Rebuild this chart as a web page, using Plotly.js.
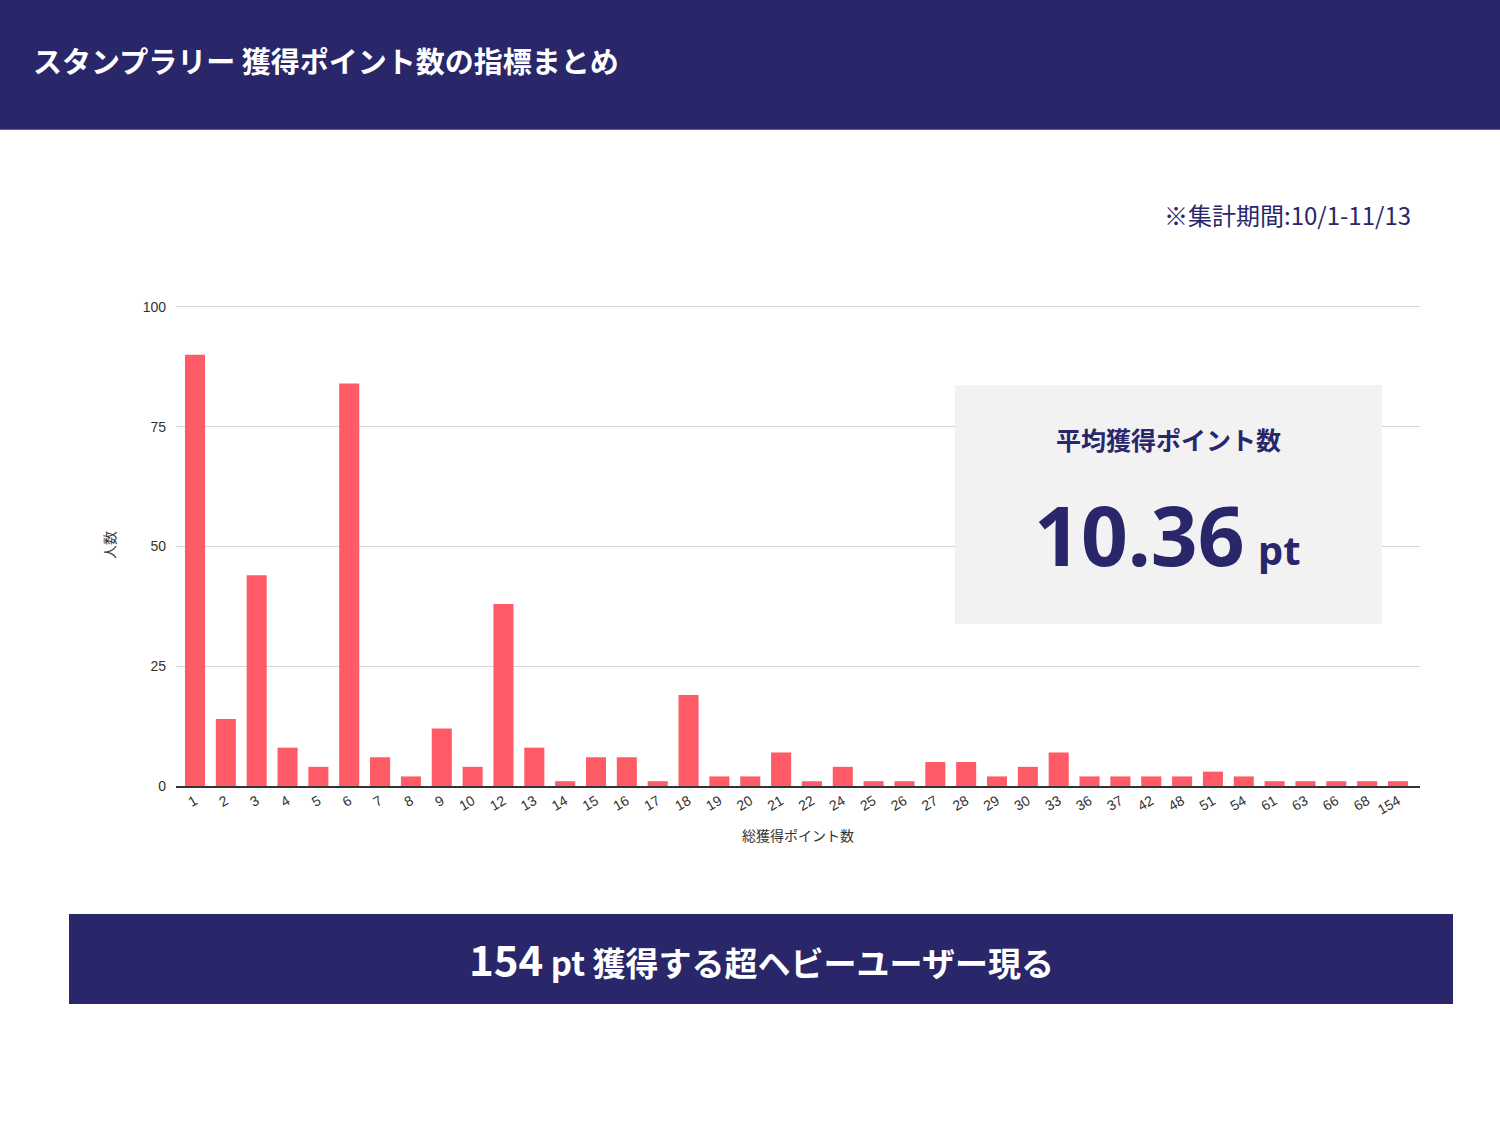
<!DOCTYPE html>
<html><head><meta charset="utf-8">
<script src="https://cdn.plot.ly/plotly-3.0.1.min.js"></script>
<style>html,body{margin:0;padding:0;background:#fff}#chart{width:1500px;height:1125px}</style>
</head><body><div id="chart"></div>
<script>
const categories = ['1','2','3','4','5','6','7','8','9','10','12','13','14','15','16','17','18','19','20','21','22','24','25','26','27','28','29','30','33','36','37','42','48','51','54','61','63','66','68','154'];
const counts = [90,14,44,8,4,84,6,2,12,4,38,8,1,6,6,1,19,2,2,7,1,4,1,1,5,5,2,4,7,2,2,2,2,3,2,1,1,1,1,1];
const yTicks = [0,25,50,75,100];
const pageTitle = 'スタンプラリー 獲得ポイント数の指標まとめ';
const periodNote = '※集計期間:10/1-11/13';
const avgLabel = '平均獲得ポイント数';
const avgValue = '10.36';
const avgUnit = 'pt';
const bannerMax = '154';
const bannerText = '獲得する超ヘビーユーザー現る';

const W = 1500, H = 1125;
const L = 176, R = 1420, B = 786;
const yTop = 100.6;
const T = B - 479 * yTop / 100;
const px = x => (x - L) / (R - L);
const py = y => (B - y) / (B - T);
const navy = '#29276a';
const jp = '"Noto Sans CJK JP", "Noto Sans", sans-serif';

const trace = {
  type: 'bar', x: categories, y: counts,
  marker: {color: '#ff5b66'},
  hoverinfo: 'x+y'
};

const layout = {
  width: W, height: H,
  margin: {l: L, r: W - R, t: T, b: H - B, pad: 0},
  paper_bgcolor: '#ffffff', plot_bgcolor: '#ffffff',
  showlegend: false,
  bargap: 0.35,
  font: {family: 'Arial, "Liberation Sans", sans-serif', color: '#333'},
  xaxis: {
    type: 'category', tickangle: -30,
    range: [-0.616, 39.713],
    tickfont: {size: 14, color: '#333'},
    showline: true, linecolor: '#333', linewidth: 1.5,
    showgrid: false, ticks: '', ticklabelstandoff: 0,
    title: {text: '総獲得ポイント数', font: {size: 14, family: jp, color: '#333'}, standoff: 14}
  },
  yaxis: {
    range: [0, yTop], tickvals: yTicks,
    tickfont: {size: 14, color: '#333'},
    gridcolor: '#d6d6d6', gridwidth: 1,
    zeroline: false, ticks: '', ticklabelstandoff: 9,
    title: {text: '人数', font: {size: 14, family: jp, color: '#333'}, standoff: 23}
  },
  shapes: [
    {type: 'rect', xref: 'paper', yref: 'paper', x0: px(0), x1: px(1500), y0: py(0), y1: py(130),
     fillcolor: navy, line: {width: 0}, layer: 'above'},
    {type: 'rect', xref: 'paper', yref: 'paper', x0: px(955), x1: px(1382), y0: py(385), y1: py(624),
     fillcolor: '#f2f2f2', line: {width: 0}, layer: 'above'},
    {type: 'rect', xref: 'paper', yref: 'paper', x0: px(69), x1: px(1453), y0: py(914), y1: py(1004),
     fillcolor: navy, line: {width: 0}, layer: 'above'}
  ],
  annotations: [
    {xref: 'paper', yref: 'paper', x: px(31), y: py(60), xanchor: 'left', yanchor: 'middle',
     text: '<b>' + pageTitle + '</b>', showarrow: false,
     font: {family: jp, size: 29, color: '#ffffff'}},
    {xref: 'paper', yref: 'paper', x: px(1413), y: py(215), xanchor: 'right', yanchor: 'middle',
     text: periodNote, showarrow: false,
     font: {family: jp, size: 24, color: navy}},
    {xref: 'paper', yref: 'paper', x: px(1168), y: py(439), xanchor: 'center', yanchor: 'middle',
     text: '<b>' + avgLabel + '</b>', showarrow: false,
     font: {family: jp, size: 25, color: navy}},
    {xref: 'paper', yref: 'paper', x: px(1247), y: py(534), xanchor: 'right', yanchor: 'middle',
     text: '<b>' + avgValue + '</b>', showarrow: false,
     font: {family: '"Noto Sans", sans-serif', size: 82, color: navy}},
    {xref: 'paper', yref: 'paper', x: px(1256), y: py(550), xanchor: 'left', yanchor: 'middle',
     text: '<b>' + avgUnit + '</b>', showarrow: false,
     font: {family: '"Noto Sans", sans-serif', size: 40, color: navy}},
    {xref: 'paper', yref: 'paper', x: px(761), y: py(957), xanchor: 'center', yanchor: 'middle',
     text: '<b><span style="font-size:42px">' + bannerMax + '</span> pt ' + bannerText + '</b>', showarrow: false,
     font: {family: jp, size: 33, color: '#ffffff'}}
  ]
};

Plotly.newPlot('chart', [trace], layout, {displayModeBar: false, staticPlot: true});
</script>
</body></html>
